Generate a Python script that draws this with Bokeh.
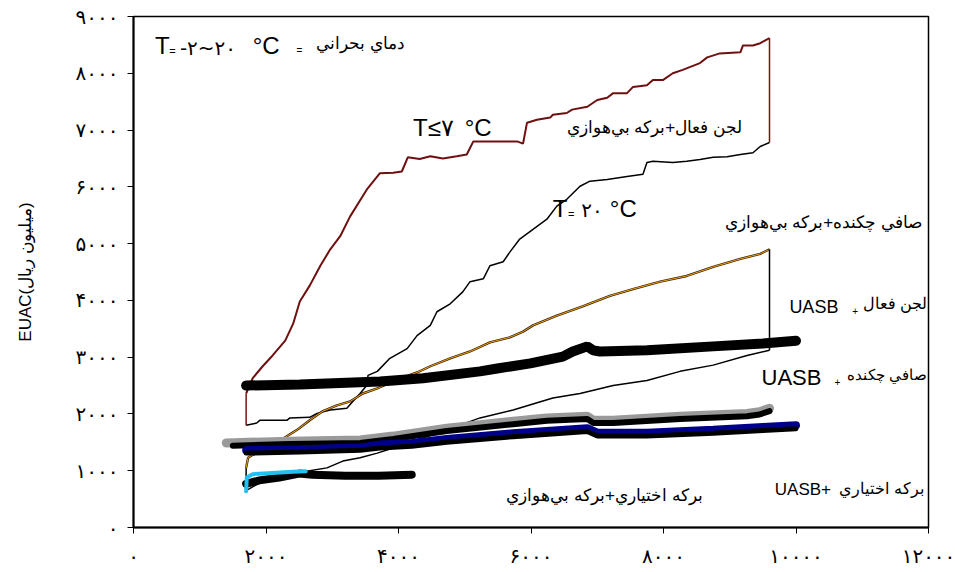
from bokeh.plotting import figure
from bokeh.models import FixedTicker, Label
from bokeh.embed import file_html
from bokeh.resources import INLINE

# ---------------- axes ----------------
x_ticks = [0, 2000, 4000, 6000, 8000, 10000, 12000]
x_tick_labels = ["۰", "۲۰۰۰", "۴۰۰۰", "۶۰۰۰", "۸۰۰۰", "۱۰۰۰۰", "۱۲۰۰۰"]
y_ticks = [0, 1000, 2000, 3000, 4000, 5000, 6000, 7000, 8000, 9000]
y_tick_labels = ["۰", "۱۰۰۰", "۲۰۰۰", "۳۰۰۰", "۴۰۰۰", "۵۰۰۰", "۶۰۰۰", "۷۰۰۰", "۸۰۰۰", "۹۰۰۰"]
y_axis_title = "EUAC(ميليون ريال)"

# ---------------- series (x = population, y = EUAC) ----------------
# activated sludge + anaerobic pond, T <= 7 C (dark red)
as_ap_cold = [(1700, 2360), (1800, 2630), (1950, 2840), (2100, 3030), (2290, 3290), (2410, 3590),
              (2510, 3980), (2660, 4260), (2820, 4610), (2970, 4900), (3120, 5130), (3270, 5480),
              (3520, 5950), (3720, 6240), (3920, 6250), (4050, 6270), (4140, 6520), (4320, 6490),
              (4480, 6540), (4670, 6500), (4880, 6540), (5030, 6570), (5130, 6800), (5490, 6800),
              (5790, 6800), (5880, 6760), (5940, 7130), (6090, 7180), (6290, 7220), (6330, 7270),
              (6540, 7300), (6620, 7360), (6850, 7410), (7000, 7530), (7150, 7570), (7240, 7650),
              (7450, 7650), (7540, 7760), (7750, 7790), (7840, 7880), (7990, 7880), (8140, 8000),
              (8290, 8060), (8550, 8180), (8660, 8280), (8850, 8350), (9160, 8370), (9200, 8490),
              (9350, 8490), (9460, 8530), (9600, 8620)]
# activated sludge + anaerobic pond, T = 20 C (black)
as_ap_warm = [(1700, 1800), (1860, 1840), (1910, 1890), (2320, 1890), (2360, 1930), (2660, 1940),
              (2770, 2010), (2970, 2070), (3220, 2100), (3310, 2220), (3420, 2360), (3520, 2500),
              (3540, 2680), (3680, 2750), (3870, 2980), (4130, 3150), (4280, 3380), (4480, 3560),
              (4580, 3800), (4780, 3940), (4970, 4150), (5080, 4330), (5280, 4380), (5380, 4610),
              (5580, 4680), (5680, 4850), (5830, 5080), (6030, 5250), (6240, 5430), (6390, 5660),
              (6540, 5780), (6740, 6010), (6890, 6100), (7150, 6130), (7450, 6180), (7690, 6220),
              (7750, 6430), (7840, 6450), (8140, 6430), (8350, 6450), (8550, 6480), (8750, 6520),
              (8960, 6530), (9160, 6570), (9350, 6600), (9460, 6710), (9600, 6780)]
# trickling filter + anaerobic pond, T <= 7 C (orange)
tf_ap_cold = [(1700, 1050), (1730, 1230), (1800, 1280), (1950, 1350), (2110, 1450), (2320, 1610),
              (2470, 1720), (2660, 1890), (2860, 2050), (3070, 2150), (3270, 2220), (3460, 2360),
              (3680, 2450), (3980, 2610), (4280, 2730), (4480, 2840), (4780, 2980), (5080, 3100),
              (5380, 3260), (5680, 3350), (5880, 3450), (6030, 3560), (6390, 3730), (6790, 3900),
              (7190, 4080), (7540, 4200), (7950, 4330), (8350, 4430), (8750, 4590), (9160, 4730),
              (9460, 4820), (9600, 4900)]
# trickling filter + anaerobic pond, T = 20 C (thin black)
tf_ap_warm = [(1700, 650), (1910, 790), (2210, 910), (2510, 980), (2660, 1000), (2920, 1050),
              (3160, 1170), (3420, 1230), (3680, 1310), (3920, 1400), (4220, 1520), (4730, 1720),
              (5230, 1930), (5730, 2070), (6330, 2280), (6740, 2360), (7240, 2500), (7750, 2590),
              (8250, 2750), (8750, 2860), (9260, 3030), (9600, 3120)]
# activated sludge + UASB (thick black)
as_uasb = [(1700, 2500), (2510, 2520), (3720, 2570), (4370, 2630), (5230, 2750), (5490, 2800),
           (5990, 2890), (6480, 3010), (6630, 3100), (6850, 3190), (6940, 3120), (7040, 3100),
           (7750, 3120), (8750, 3190), (9500, 3240), (10000, 3290)]
# trickling filter + UASB (gray / black)
tf_uasb_cold = [(1400, 1490), (2360, 1520), (3420, 1540), (3920, 1610), (4730, 1750), (5730, 1870),
                (6240, 1930), (6850, 1960), (6940, 1890), (7240, 1890), (8250, 1960), (9260, 2010),
                (9450, 2040), (9600, 2100)]
tf_uasb_warm = [(1500, 1440), (2360, 1470), (3420, 1490), (3920, 1560), (4730, 1700), (5730, 1820),
                (6240, 1880), (6850, 1910), (6940, 1840), (7240, 1840), (8250, 1910), (9260, 1960),
                (9450, 1990), (9600, 2050)]
# facultative pond + UASB (blue / black)
fp_uasb_cold = [(1700, 1360), (2510, 1380), (3420, 1410), (3720, 1460), (4200, 1490), (4730, 1560),
                (5730, 1660), (6850, 1750), (7000, 1670), (7750, 1670), (8750, 1720), (9500, 1770),
                (10000, 1800)]
fp_uasb_warm = [(1700, 1310), (2510, 1330), (3420, 1360), (3720, 1400), (4200, 1430), (4730, 1500),
                (5730, 1600), (6850, 1690), (7000, 1610), (7750, 1610), (8750, 1660), (9500, 1710),
                (10000, 1740)]
# facultative pond + anaerobic pond (cyan / black)
fp_ap_cold = [(1700, 640), (1710, 880), (1800, 940), (2100, 960), (2400, 980), (2600, 990)]
fp_ap_warm = [(1700, 770), (1900, 830), (2200, 880), (2500, 950), (2700, 930), (3200, 910),
              (3700, 910), (4200, 930)]


def xs(s):
    return [a for a, b in s]


def ys(s):
    return [b for a, b in s]


FONT = "Liberation Sans"
NUMFONT = "DejaVu Sans"

p = figure(width=955, height=570, x_range=(0, 12000), y_range=(0, 9000),
           output_backend="svg", toolbar_location=None,
           min_border_left=133, min_border_right=27, min_border_top=16, min_border_bottom=40)
p.background_fill_color = "white"
p.border_fill_color = "white"
p.outline_line_color = "black"
p.outline_line_width = 1.5
p.xgrid.grid_line_color = None
p.ygrid.grid_line_color = None

p.xaxis.ticker = FixedTicker(ticks=x_ticks)
p.xaxis.major_label_overrides = dict(zip(x_ticks, x_tick_labels))
p.yaxis.ticker = FixedTicker(ticks=y_ticks)
p.yaxis.major_label_overrides = dict(zip(y_ticks, y_tick_labels))
for ax in (p.xaxis, p.yaxis):
    ax.axis_line_width = 2
    ax.axis_line_color = "black"
    ax.major_tick_out = 6
    ax.major_tick_in = 0
    ax.major_tick_line_color = "black"
    ax.minor_tick_line_color = None
    ax.major_label_text_font = NUMFONT
    ax.major_label_text_font_size = "20px"
    ax.major_label_text_color = "black"
p.xaxis.major_label_standoff = 10
p.yaxis.major_label_standoff = 9
p.yaxis.axis_label = y_axis_title
p.yaxis.axis_label_text_font = FONT
p.yaxis.axis_label_text_font_size = "17px"
p.yaxis.axis_label_text_font_style = "normal"
p.yaxis.axis_label_text_color = "black"
p.yaxis.axis_label_standoff = 38

# ---- thin curves ----
p.line(xs(as_ap_warm), ys(as_ap_warm), line_color="black", line_width=1.5)
p.line(xs(tf_ap_warm), ys(tf_ap_warm), line_color="black", line_width=1.5)
p.line(xs(tf_ap_cold), ys(tf_ap_cold), line_color="#3a2400", line_width=2.4)
p.line(xs(tf_ap_cold), ys(tf_ap_cold), line_color="#f0a020", line_width=1.0)
p.line(xs(as_ap_cold), ys(as_ap_cold), line_color="#6e1010", line_width=2.0)
# closing verticals between the paired curves
p.line([xs(as_ap_cold)[0], xs(as_ap_warm)[0]], [ys(as_ap_cold)[0], ys(as_ap_warm)[0]],
       line_color="#7b1111", line_width=1.5)
p.line([xs(as_ap_cold)[-1], xs(as_ap_warm)[-1]], [ys(as_ap_cold)[-1], ys(as_ap_warm)[-1]],
       line_color="#7b1111", line_width=1.5)
p.line([xs(tf_ap_cold)[0], xs(tf_ap_warm)[0]], [ys(tf_ap_cold)[0], ys(tf_ap_warm)[0]],
       line_color="black", line_width=1.5)
p.line([xs(tf_ap_cold)[-1], xs(tf_ap_warm)[-1]], [ys(tf_ap_cold)[-1], ys(tf_ap_warm)[-1]],
       line_color="black", line_width=1.5)

# ---- thick curves ----
p.line(xs(as_uasb), ys(as_uasb), line_color="black", line_width=10, line_cap="round")
p.line(xs(tf_uasb_cold), ys(tf_uasb_cold), line_color="#9a9a9a", line_width=9, line_cap="round")
p.line(xs(tf_uasb_warm), ys(tf_uasb_warm), line_color="black", line_width=6, line_cap="round")
p.line(xs(fp_uasb_cold), ys(fp_uasb_cold), line_color="#00008b", line_width=8, line_cap="round")
p.line(xs(fp_uasb_warm), ys(fp_uasb_warm), line_color="black", line_width=5, line_cap="round")
p.line(xs(fp_ap_warm), ys(fp_ap_warm), line_color="black", line_width=8, line_cap="round")
p.line(xs(fp_ap_cold), ys(fp_ap_cold), line_color="#22c0f0", line_width=4, line_cap="round")


def lab(x, y, text, size, align="left", font=FONT):
    p.add_layout(Label(x=x, y=y, text=text, text_font=font, text_font_size=size,
                       text_align=align, text_baseline="middle", text_color="black"))


# critical temperature range
lab(325, 8490, "T", "24px")
lab(540, 8390, "=", "11px")
lab(700, 8450, "-۲~۲۰", "20px", font=NUMFONT)
lab(1800, 8490, "°C", "24px")
lab(2460, 8400, "=", "10px")
lab(4100, 8530, "دماي بحراني", "17px", "right")
# temperature labels of the envelopes
lab(4220, 7040, "T≤۷", "24px")
lab(5000, 7040, "°C", "24px")
lab(6330, 5620, "T", "24px")
lab(6560, 5520, "=", "11px")
lab(6760, 5600, "۲۰", "20px", font=NUMFONT)
lab(7190, 5620, "°C", "24px")
# process labels
lab(9185, 7040, "لجن فعال+برکه بي‌هوازي", "17px", "right")
lab(11900, 5370, "صافي چکنده+برکه بي‌هوازي", "17px", "right")
lab(9900, 3890, "UASB", "18px")
lab(10850, 3820, "+", "10px")
lab(11980, 3940, "لجن فعال", "16px", "right")
lab(9480, 2640, "UASB", "22px")
lab(10580, 2560, "+", "10px")
lab(11980, 2690, "صافي چکنده", "15px", "right")
lab(9680, 670, "UASB+", "17px")
lab(11930, 690, "برکه اختياري", "16px", "right")
lab(7110, 570, "برکه اختياري+برکه بي‌هوازي", "17px", "center")

open("out.html", "w").write(file_html(p, INLINE))
